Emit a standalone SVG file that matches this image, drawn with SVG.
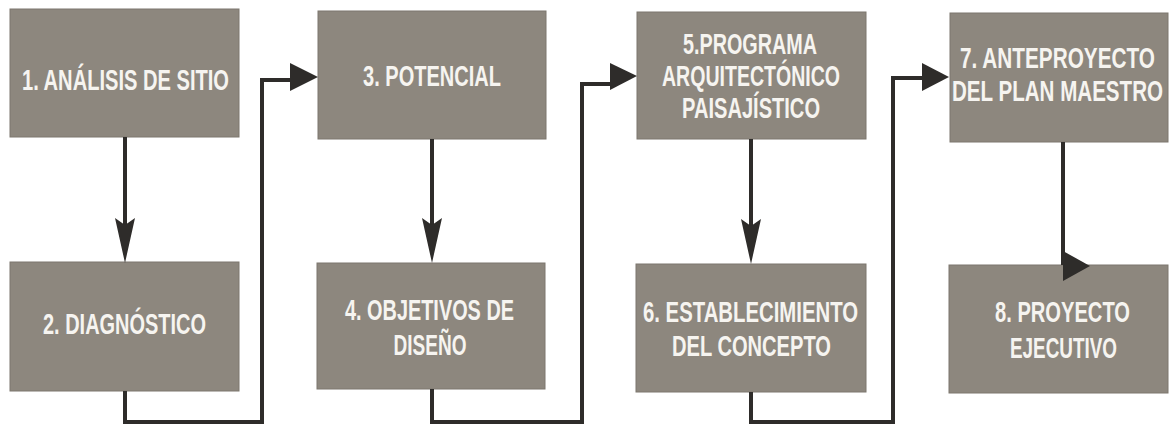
<svg xmlns="http://www.w3.org/2000/svg" width="1170" height="427" viewBox="0 0 1170 427">
<style>
.box{fill:#8d877e;stroke:#7d776e;stroke-width:1}
.t{font-family:"Liberation Sans Narrow","Liberation Sans",Arial,sans-serif;font-weight:bold;font-size:29px;fill:#f6f4f0;text-anchor:middle}
.ln{fill:none;stroke:#2e2c2a;stroke-width:4;stroke-linejoin:miter}
.ah{fill:#2e2c2a}
</style>
<rect width="1170" height="427" fill="#ffffff"/>
<g id="n1"><rect class="box" x="10" y="9" width="229" height="128"/>
<text class="t" x="125.5" y="90" textLength="207" lengthAdjust="spacingAndGlyphs">1. ANÁLISIS DE SITIO</text></g>
<g id="n2"><rect class="box" x="10" y="262" width="229" height="129"/>
<text class="t" x="124.5" y="334" textLength="163" lengthAdjust="spacingAndGlyphs">2. DIAGNÓSTICO</text></g>
<g id="n3"><rect class="box" x="318" y="11" width="228" height="128"/>
<text class="t" x="432" y="86" textLength="138" lengthAdjust="spacingAndGlyphs">3. POTENCIAL</text></g>
<g id="n4"><rect class="box" x="317" y="263" width="228" height="126"/>
<text class="t" x="429.5" y="320" textLength="169" lengthAdjust="spacingAndGlyphs">4. OBJETIVOS DE</text>
<text class="t" x="430" y="355" textLength="73" lengthAdjust="spacingAndGlyphs">DISEÑO</text></g>
<g id="n5"><rect class="box" x="637" y="12" width="229" height="127"/>
<text class="t" x="750" y="54" textLength="134" lengthAdjust="spacingAndGlyphs">5.PROGRAMA</text>
<text class="t" x="751" y="86" textLength="178" lengthAdjust="spacingAndGlyphs">ARQUITECTÓNICO</text>
<text class="t" x="751" y="118" textLength="138" lengthAdjust="spacingAndGlyphs">PAISAJÍSTICO</text></g>
<g id="n6"><rect class="box" x="636" y="264" width="230" height="128"/>
<text class="t" x="750.5" y="322" textLength="215" lengthAdjust="spacingAndGlyphs">6. ESTABLECIMIENTO</text>
<text class="t" x="751.5" y="356" textLength="159" lengthAdjust="spacingAndGlyphs">DEL CONCEPTO</text></g>
<g id="n7"><rect class="box" x="950" y="13" width="218" height="129"/>
<text class="t" x="1057.5" y="68" textLength="195" lengthAdjust="spacingAndGlyphs">7. ANTEPROYECTO</text>
<text class="t" x="1057.5" y="101" textLength="211" lengthAdjust="spacingAndGlyphs">DEL PLAN MAESTRO</text></g>
<g id="n8"><rect class="box" x="949" y="265" width="219" height="128"/>
<text class="t" x="1062.5" y="322" textLength="135" lengthAdjust="spacingAndGlyphs">8. PROYECTO</text>
<text class="t" x="1063.5" y="358" textLength="107" lengthAdjust="spacingAndGlyphs">EJECUTIVO</text></g>
<g id="connectors">
<path class="ln" d="M125,137 V225"/>
<polygon class="ah" points="115,218 125,225 135,218 125,263"/>
<path class="ln" d="M125,391 V422 H262 V80 H293"/>
<polygon class="ah" points="290,63 318,77 290,91"/>
<path class="ln" d="M432,139 V225"/>
<polygon class="ah" points="422,218 432,225 442,218 432,263"/>
<path class="ln" d="M432,389 V422 H582 V84 H613"/>
<polygon class="ah" points="610,63 637,76 610,90"/>
<path class="ln" d="M751,139 V226"/>
<polygon class="ah" points="741,219 751,226 761,219 751,264"/>
<path class="ln" d="M751,392 V422 H893 V78 H925"/>
<polygon class="ah" points="922,63 949,77 922,91"/>
<path class="ln" d="M1063,142 V265"/>
<polygon class="ah" points="1063,251 1090,266 1063,281"/>
</g>
</svg>
